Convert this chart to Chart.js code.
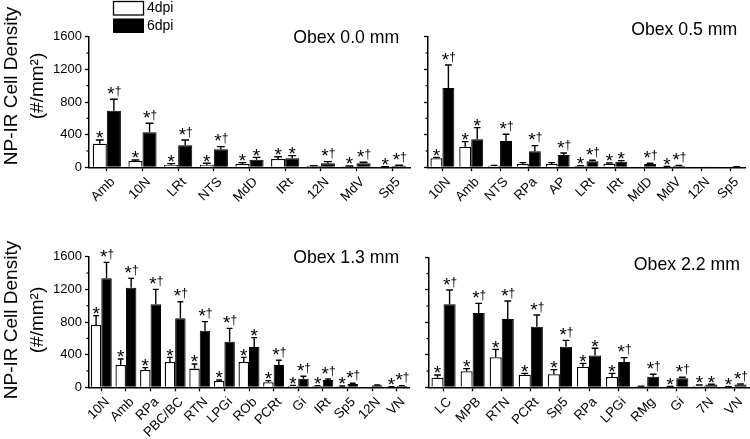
<!DOCTYPE html>
<html><head><meta charset="utf-8">
<script src="https://cdn.jsdelivr.net/npm/chart.js@4.4.0/dist/chart.umd.min.js"></script>
<style>
html,body{margin:0;padding:0;background:#fff;}
#wrap{position:relative;width:750px;height:439px;overflow:hidden;background:#fff;}
canvas{position:absolute;}
</style></head><body>
<div id="wrap">
<canvas id="c0" width="412" height="215" style="left:0;top:0;"></canvas>
<canvas id="c1" width="338" height="215" style="left:412px;top:0;"></canvas>
<canvas id="c2" width="412" height="224" style="left:0;top:215px;"></canvas>
<canvas id="c3" width="338" height="224" style="left:412px;top:215px;"></canvas>
</div>
<script>
// ---------- DATA ----------
const seriesNames = ['4dpi', '6dpi'];
const yTicks = [0, 400, 800, 1200, 1600];
const yMinorTicks = [200, 600, 1000, 1400];

const titles = ['Obex 0.0 mm', 'Obex 0.5 mm', 'Obex 1.3 mm', 'Obex 2.2 mm'];

const cats0 = ['Amb','10N','LRt','NTS','MdD','IRt','12N','MdV','Sp5'];
const d4_0 = [290, 77, 29, 29, 41, 102, 16, 12, 4];
const e4_0 = [335, 89, 45, 49, 57, 130, 20, 16, 6];
const d6_0 = [694, 429, 269, 220, 94, 110, 49, 49, 20];
const e6_0 = [833, 539, 335, 253, 122, 143, 69, 61, 26];
const s4_0 = ['*','*','*','*','*','*','','*','*'];
const s6_0 = ['*†','*†','*†','*†','*','*','*†','*†','*†'];

const cats1 = ['10N','Amb','NTS','RPa','AP','LRt','IRt','MdD','MdV','12N','Sp5'];
const d4_1 = [110, 253, 20, 41, 41, 16, 45, 2, 8, 2, 2];
const e4_1 = [122, 314, 24, 57, 57, 20, 53, 2, 10, 2, 2];
const d6_1 = [971, 343, 322, 196, 151, 73, 69, 41, 20, 4, 4];
const e6_1 = [1253, 486, 404, 265, 176, 86, 82, 49, 24, 4, 6];
const s4_1 = ['*','*','','','','*','*','','*','',''];
const s6_1 = ['*†','*','*†','*†','*†','*†','*','*†','*†','',''];

const cats2 = ['10N','Amb','RPa','PBC/BC','RTN','LPGi','ROb','PCRt','Gi','IRt','Sp5','12N','VN'];
const d4_2 = [763, 273, 212, 310, 229, 78, 310, 61, 20, 16, 12, 4, 4];
const e4_2 = [878, 347, 241, 367, 286, 90, 367, 82, 24, 20, 16, 4, 6];
const d6_2 = [1335, 1220, 1016, 845, 694, 559, 494, 273, 106, 90, 41, 24, 16];
const e6_2 = [1531, 1335, 1200, 1049, 804, 722, 608, 331, 135, 102, 49, 28, 20];
const s4_2 = ['*','*','*','*','*','*','*','*','*','*','*','','*'];
const s6_2 = ['*†','*†','*†','*†','*†','*†','*','*†','*†','*†','*†','','*†'];

const cats3 = ['LC','MPB','RTN','PCRt','Sp5','RPa','LPGi','RMg','Gi','7N','VN'];
const d4_3 = [119, 197, 369, 156, 160, 254, 127, 12, 8, 20, 4];
const e4_3 = [152, 230, 467, 172, 217, 295, 172, 14, 10, 29, 6];
const d6_3 = [1021, 915, 841, 746, 500, 390, 312, 131, 111, 33, 33];
const e6_3 = [1197, 1033, 1062, 890, 578, 480, 365, 160, 123, 37, 41];
const s4_3 = ['*','*','*','*','*','*','*','','*','*','*'];
const s6_3 = ['*†','*†','*†','*†','*†','*','*†','*†','*†','*','*†'];

// ---------- DRAWING ----------
const FONT = "'Liberation Sans', Arial, Helvetica, sans-serif";

const decor = {
  id: 'decor',
  afterDatasetsDraw(chart, args, o) {
    const ctx = chart.ctx;
    const y = chart.scales.y;
    ctx.save();
    ctx.strokeStyle = '#000';
    ctx.fillStyle = '#000';
    // minor ticks
    ctx.lineWidth = 1.2;
    yMinorTicks.forEach(v => {
      const py = y.getPixelForValue(v);
      ctx.beginPath(); ctx.moveTo(y.right - 2.5, py); ctx.lineTo(y.right, py); ctx.stroke();
    });
    chart.data.datasets.forEach((ds, di) => {
      const meta = chart.getDatasetMeta(di);
      meta.data.forEach((bar, i) => {
        const v = ds.data[i], e = ds.err[i];
        const cx = bar.x, w = bar.width;
        let top = bar.y;
        if (e > v) {
          const ey = y.getPixelForValue(e);
          ctx.lineWidth = 1.4;
          ctx.beginPath();
          ctx.moveTo(cx, bar.y); ctx.lineTo(cx, ey);
          ctx.moveTo(cx - w * 0.28, ey); ctx.lineTo(cx + w * 0.28, ey);
          ctx.stroke();
          top = ey;
        }
        const s = ds.sig[i];
        if (s === '*') {
          ctx.font = '19px ' + FONT;
          ctx.textAlign = 'center'; ctx.textBaseline = 'alphabetic';
          ctx.fillText('*', cx, top + 4.4);
        } else if (s === '*†') {
          ctx.textAlign = 'left'; ctx.textBaseline = 'alphabetic';
          ctx.font = '19px ' + FONT;
          const ws = ctx.measureText('*').width;
          ctx.font = '12px ' + FONT;
          const wd = ctx.measureText('†').width;
          const x0 = cx - (ws + wd) / 2 + 0.5;
          ctx.font = '19px ' + FONT;
          ctx.fillText('*', x0, top + 0.6);
          ctx.font = '12px ' + FONT;
          ctx.fillText('†', x0 + ws, top - 4.2);
        }
      });
    });
    // panel title
    ctx.font = '17.7px ' + FONT;
    ctx.textAlign = 'right'; ctx.textBaseline = 'alphabetic';
    ctx.fillText(o.title, o.tx, o.ty);
    // y axis title
    if (o.ytitle) {
      ctx.save();
      ctx.translate(0, o.ycy);
      ctx.rotate(-Math.PI / 2);
      ctx.font = '19px ' + FONT;
      ctx.textAlign = 'center'; ctx.textBaseline = 'alphabetic';
      ctx.fillText('NP-IR Cell Density', 0, 16.7);
      ctx.fillText('(#/mm²)', 0, 42.5);
      ctx.restore();
    }
    // legend
    if (o.legend) {
      ctx.lineWidth = 1.3;
      ctx.fillStyle = '#fff';
      ctx.fillRect(113.5, 1.5, 30, 13.5);
      ctx.strokeRect(113.5, 1.5, 30, 13.5);
      ctx.fillStyle = '#000';
      ctx.fillRect(113, 18.5, 31, 14.5);
      ctx.font = '14px ' + FONT;
      ctx.textAlign = 'left'; ctx.textBaseline = 'middle';
      ctx.fillText(seriesNames[0], 147, 8.5);
      ctx.fillText(seriesNames[1], 147, 26);
    }
    ctx.restore();
  }
};

function makeChart(id, cats, d4, e4, s4, d6, e6, s6, cfg) {
  const ctx = document.getElementById(id);
  return new Chart(ctx, {
    type: 'bar',
    data: {
      labels: cats,
      datasets: [
        { label: seriesNames[0], data: d4, err: e4, sig: s4,
          backgroundColor: '#ffffff', borderColor: '#000000', borderWidth: 1.3,
          categoryPercentage: cfg.cp, barPercentage: 1 },
        { label: seriesNames[1], data: d6, err: e6, sig: s6,
          backgroundColor: '#000000', borderColor: '#000000', borderWidth: 1,
          categoryPercentage: cfg.cp, barPercentage: 1 }
      ]
    },
    options: {
      responsive: false,
      animation: false,
      devicePixelRatio: 1,
      layout: { padding: { left: 0, top: cfg.top, right: cfg.right, bottom: 0 } },
      plugins: {
        legend: { display: false },
        tooltip: { enabled: false },
        title: { display: false },
        decor: cfg.decor
      },
      scales: {
        x: {
          type: 'category',
          offset: true,
          grid: { display: true, drawOnChartArea: false, offset: false, tickLength: 4, tickColor: '#000', tickWidth: 1.3 },
          border: { display: true, color: '#000', width: 1.5 },
          ticks: { color: '#000', font: { family: FONT, size: 13.3 }, minRotation: 45, maxRotation: 45, autoSkip: false, padding: 3, labelOffset: 6 },
          afterFit(s) { s.height = cfg.xh; }
        },
        y: {
          min: 0, max: 1600,
          afterBuildTicks(s) { s.ticks = yTicks.map(v => ({ value: v })); },
          grid: { display: true, drawOnChartArea: false, tickLength: 4, tickColor: '#000', tickWidth: 1.3 },
          border: { display: true, color: '#000', width: 1.5 },
          ticks: { color: '#000', font: { family: FONT, size: 13 }, padding: 3,
                   callback: cfg.labels ? (v => String(v)) : (() => '') },
          afterFit(s) { s.width = cfg.yw; }
        }
      }
    },
    plugins: [decor]
  });
}

makeChart('c0', cats0, d4_0, e4_0, s4_0, d6_0, e6_0, s6_0,
  { cp: 0.79, top: 36.7, right: 2, xh: 47.7, yw: 89, labels: true,
    decor: { title: titles[0], tx: 399.3, ty: 43.3, ytitle: true, ycy: 86, legend: true } });
makeChart('c1', cats1, d4_1, e4_1, s4_1, d6_1, e6_1, s6_1,
  { cp: 0.83, top: 36.7, right: 5, xh: 47.7, yw: 16, labels: false,
    decor: { title: titles[1], tx: 325.3, ty: 35, ytitle: false, legend: false } });
makeChart('c2', cats2, d4_2, e4_2, s4_2, d6_2, e6_2, s6_2,
  { cp: 0.85, top: 41.7, right: 3, xh: 51.7, yw: 89, labels: true,
    decor: { title: titles[2], tx: 399.3, ty: 48.3, ytitle: true, ycy: 105, legend: false } });
makeChart('c3', cats3, d4_3, e4_3, s4_3, d6_3, e6_3, s6_3,
  { cp: 0.83, top: 42.3, right: 1, xh: 51.7, yw: 17, labels: false,
    decor: { title: titles[3], tx: 328, ty: 55, ytitle: false, legend: false } });
</script>
</body></html>
